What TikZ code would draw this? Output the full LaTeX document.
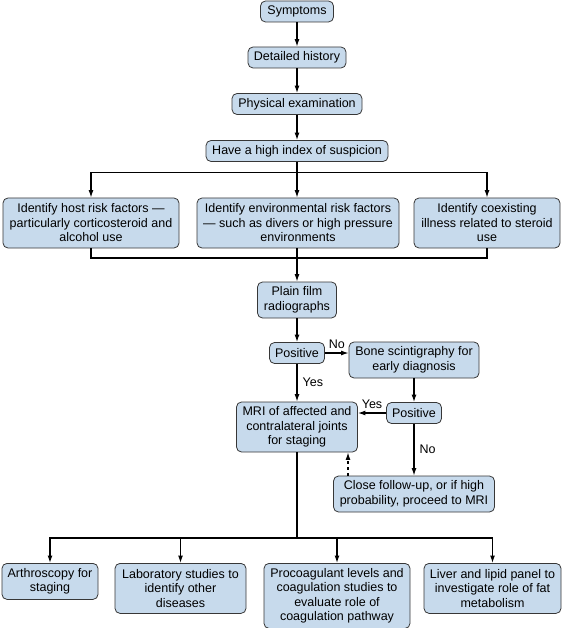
\documentclass[tikz,border=0pt]{standalone}
\usepackage{fontspec}
\setmainfont{Liberation Sans}
\usepackage{tikz}
\usetikzlibrary{arrows.meta}
\definecolor{boxblue}{RGB}{199,218,236}
\definecolor{boxline}{RGB}{55,55,55}
\tikzset{
	box/.style   = {draw=boxline, line width=0.8pt, rounded corners=5pt, fill=boxblue,
		align=center, inner xsep=2pt, inner ysep=3pt, minimum height=21pt},
	lbl/.style   = {inner sep=2pt}
}

\begin{document}
\begin{tikzpicture}[x=1pt, y=-1pt, line width=1.2pt, >={Latex[length=7.5pt,width=5pt]},
	font=\fontsize{12.5pt}{14.5pt}\selectfont]
	\useasboundingbox (0,0) rectangle (562,628);

	\draw
	% main column
	node at (297,11.5) [box, minimum width=73pt] (sym) {Symptoms}
	node at (297,57.5) [box, minimum width=98pt] (hist) {Detailed history}
	node at (297,104) [box, minimum width=130pt] (exam) {Physical examination}
	node at (297,151) [box, minimum width=182pt] (susp) {Have a high index of suspicion}
	% risk factors
	node at (91,223) [box, minimum width=176pt, minimum height=50pt] (host)
		{Identify host risk factors ---\\particularly corticosteroid and\\alcohol use}
	node at (298,223) [box, minimum width=202pt, minimum height=50pt] (env)
		{Identify environmental risk factors\\--- such as divers or high pressure\\environments}
	node at (487,223) [box, minimum width=146pt, minimum height=50pt] (coex)
		{Identify coexisting\\illness related to steroid\\use}
	node at (297,300) [box, minimum width=79pt, minimum height=36pt] (film) {Plain film\\radiographs}
	% decisions
	node at (297,353) [box, minimum width=55pt] (pos1) {Positive}
	node at (414,360) [box, minimum width=130pt, minimum height=36pt] (bone)
		{Bone scintigraphy for\\early diagnosis}
	node at (297,427) [box, minimum width=121pt, minimum height=50pt] (mri)
		{MRI of affected and\\contralateral joints\\for staging}
	node at (414,413) [box, minimum width=55pt] (pos2) {Positive}
	node at (414,494) [box, minimum width=161pt, minimum height=36pt] (close)
		{Close follow-up, or if high\\probability, proceed to MRI}
	% further studies
	node at (50,563) [box, anchor=north, minimum width=96pt, minimum height=36pt] (arth)
		{Arthroscopy for\\staging}
	node at (180.5,563) [box, anchor=north, minimum width=131pt, minimum height=50pt] (lab)
		{Laboratory studies to\\identify other\\diseases}
	node at (337,563) [box, anchor=north, minimum width=146pt, minimum height=65pt] (proc)
		{Procoagulant levels and\\coagulation studies to\\evaluate role of\\coagulation pathway}
	node at (492.5,563) [box, anchor=north, minimum width=137pt, minimum height=50pt] (liver)
		{Liver and lipid panel to\\investigate role of fat\\metabolism};

	\coordinate (br) at (297,172.5);
	\coordinate (mg) at (297,258);
	\coordinate (jn) at (297,538);

	\draw[->](sym) -- (hist);
	\draw[->](hist) -- (exam);
	\draw[->](exam) -- (susp);
	\draw[->](susp) -- (env.north -| susp);
	\draw[->](br) -| (host);
	\draw[->](br) -| (coex);
	\draw[-](host) |- (mg) -| (coex);
	\draw[->](env.south -| film) -- (film);
	\draw[->](film) -- (pos1);
	\draw[->](pos1) -- node[lbl, above=2pt] {No} (pos1.east -| bone.west);
	\draw[->](pos1) -- node[lbl, right=3pt] {Yes} (mri);
	\draw[->](bone) -- (pos2);
	\draw[->](pos2) -- node[lbl, above=2pt] {Yes} (pos2.west -| mri.east);
	\draw[->](pos2) -- node[lbl, right=3pt] {No} (close);
	\draw[->, dashed](close.north -| 348,0) -- (mri.south -| 348,0);
	\draw[-](mri) -- (jn);
	\draw[->](jn) -| (arth);
	\draw[->](jn) -| (lab);
	\draw[->](jn) -| (proc);
	\draw[->](jn) -| (liver);

\end{tikzpicture}
\end{document}
